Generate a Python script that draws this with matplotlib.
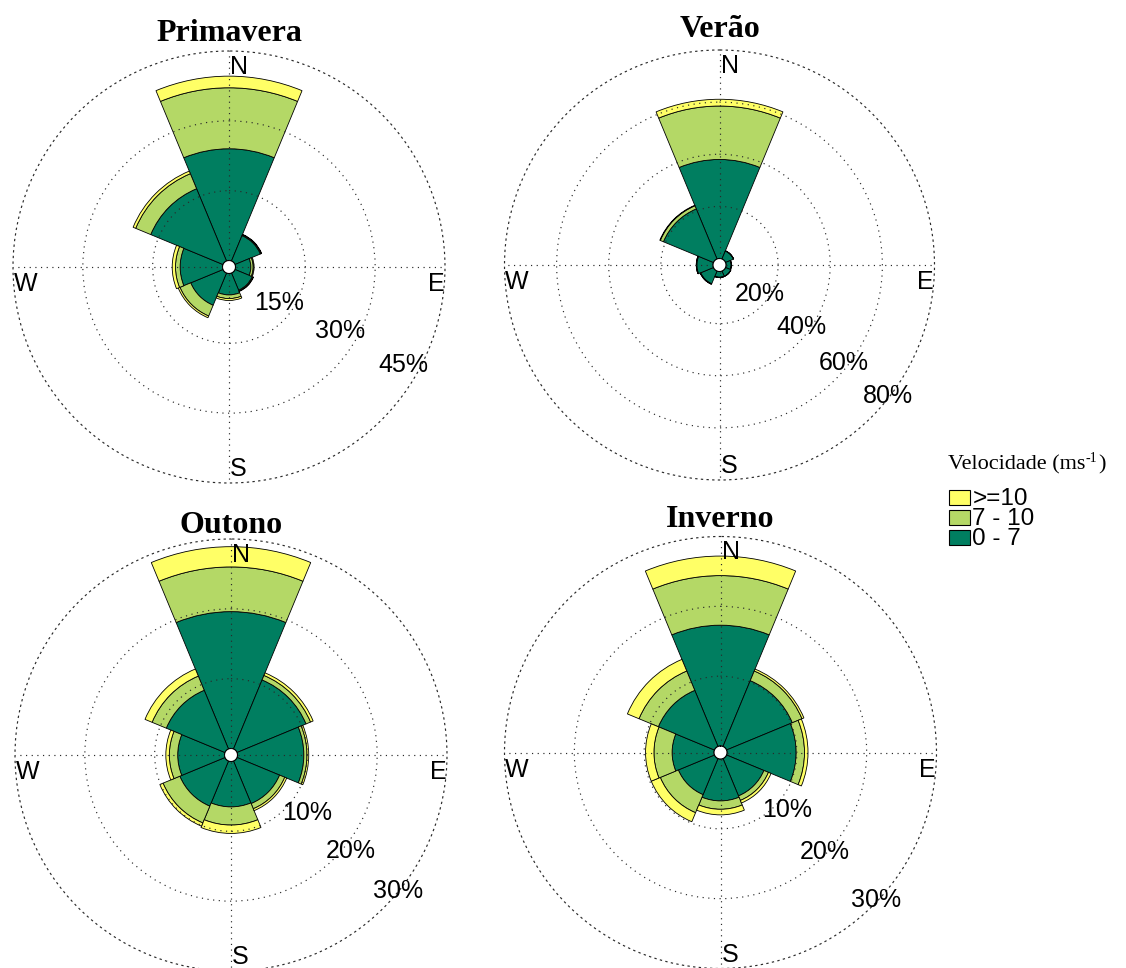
import numpy as np
import matplotlib
matplotlib.use("Agg")
import matplotlib.pyplot as plt
from matplotlib.patches import Rectangle

# ---------------------------------------------------------------
# Wind-direction frequency (%) per speed class, 8 sectors
# ---------------------------------------------------------------
directions = ["N", "NE", "E", "SE", "S", "SW", "W", "NW"]
speed_classes = ["0 - 7", "7 - 10", ">=10"]
class_colors = ["#007E60", "#B4D866", "#FFFF66"]

seasons = ["Primavera", "Verão", "Outono", "Inverno"]

primavera_0_7 = [24.0, 5.9, 3.3, 4.0, 4.6, 7.5, 9.1, 16.8]
primavera_7_10 = [13.1, 0.2, 0.5, 0.2, 0.8, 2.5, 1.0, 3.5]
primavera_ge10 = [2.5, 0.1, 0.2, 0.1, 0.4, 0.4, 0.7, 0.6]

verao_0_7 = [38.0, 3.3, 2.0, 2.2, 2.2, 5.3, 6.2, 20.8]
verao_7_10 = [20.5, 0.1, 0.05, 0.05, 0.1, 0.2, 0.2, 1.3]
verao_ge10 = [2.6, 0.0, 0.0, 0.0, 0.0, 0.0, 0.0, 0.2]

outono_0_7 = [19.6, 10.7, 9.5, 6.6, 6.5, 7.0, 6.7, 9.1]
outono_7_10 = [6.4, 0.7, 0.45, 0.8, 2.6, 2.6, 1.2, 2.2]
outono_ge10 = [2.9, 0.4, 0.25, 0.3, 1.2, 0.5, 0.5, 1.1]

inverno_0_7 = [17.3, 10.2, 9.9, 5.8, 6.0, 5.6, 6.0, 8.7]
inverno_7_10 = [7.1, 1.5, 1.2, 0.7, 1.2, 2.8, 2.6, 3.0]
inverno_ge10 = [2.8, 0.3, 0.5, 0.4, 0.8, 1.4, 1.2, 1.8]

season_data = [
    [primavera_0_7, primavera_7_10, primavera_ge10],
    [verao_0_7, verao_7_10, verao_ge10],
    [outono_0_7, outono_7_10, outono_ge10],
    [inverno_0_7, inverno_7_10, inverno_ge10],
]

# frequency rings (last one is the outer limit of each rose)
season_rings = [
    [15, 30, 45],
    [20, 40, 60, 80],
    [10, 20, 30],
    [10, 20, 30],
]

# ---------------------------------------------------------------
# Layout (pixels on a 1126 x 968 canvas)
# ---------------------------------------------------------------
W_PX, H_PX = 1126, 968
centers = [(229, 267), (719.5, 265), (231, 755), (720.5, 752.5)]
radii = [216, 215, 216, 216]
hole_px = 6.5

# ring label placement (bearing in degrees, radius in %)
ring_label_angles = [
    [125.8, 119.9, 119.4],
    [125.2, 127.0, 128.2, 127.8],
    [127.2, 128.6, 129.2],
    [130.9, 133.7, 133.5],
]
ring_label_r = [
    [11.9, 26.2, 41.6],
    [16.6, 37.1, 58.2, 79.3],
    [12.7, 21.1, 29.9],
    [11.6, 19.7, 29.7],
]
title_y = [1.023, 1.030, 1.014, 1.022]

SANS = "Liberation Sans"
SERIF = "Liberation Serif"
dots = (0, (1, 3.8))
grid_color = "#2a2a2a"

fig = plt.figure(figsize=(W_PX / 100, H_PX / 100), dpi=100)

theta = np.deg2rad(np.arange(len(directions)) * 45.0)
width = np.deg2rad(45.0)

for k, name in enumerate(seasons):
    cx, cy = centers[k]
    R = radii[k]
    rings = season_rings[k]
    rmax = rings[-1]

    ax = fig.add_axes([(cx - R) / W_PX, (H_PX - cy - R) / H_PX,
                       2 * R / W_PX, 2 * R / H_PX], projection="polar")
    ax.set_theta_zero_location("N")
    ax.set_theta_direction(-1)
    ax.set_ylim(0, rmax)
    ax.set_rorigin(-hole_px * rmax / (R - hole_px))
    ax.set_axisbelow(False)

    bottom = np.zeros(len(directions))
    for vals, color, label in zip(season_data[k], class_colors, speed_classes):
        vals = np.asarray(vals, dtype=float)
        ax.bar(theta, vals, width=width, bottom=bottom, color=color,
               edgecolor="black", linewidth=0.6, zorder=1, label=label)
        bottom = bottom + vals

    ax.set_rgrids(rings[:-1], labels=[""] * (len(rings) - 1))
    ax.set_thetagrids([0, 90, 180, 270], labels=[""] * 4)
    ax.grid(True, color=grid_color, linestyle=dots, linewidth=0.85)
    ax.tick_params(length=0)
    ax.spines["polar"].set_linestyle(dots)
    ax.spines["polar"].set_linewidth(0.85)
    ax.spines["polar"].set_edgecolor(grid_color)

    # compass letters
    ax.text(0.503, 0.991, "N", transform=ax.transAxes, ha="left", va="top",
            fontsize=18, family=SANS, zorder=5)
    ax.text(0.002, 0.488, "W", transform=ax.transAxes, ha="left", va="top",
            fontsize=18, family=SANS, zorder=5)
    ax.text(0.998, 0.488, "E", transform=ax.transAxes, ha="right", va="top",
            fontsize=18, family=SANS, zorder=5)
    ax.text(0.503, 0.016, "S", transform=ax.transAxes, ha="left",
            va="baseline", fontsize=18, family=SANS, zorder=5)

    # ring labels
    for ang, rr, val in zip(ring_label_angles[k], ring_label_r[k], rings):
        ax.text(np.deg2rad(ang), rr, f"{val}%", ha="center", va="center",
                fontsize=18, family=SANS, zorder=5)

    ax.text(0.5, title_y[k], name, transform=ax.transAxes, ha="center",
            va="baseline", fontsize=23, fontweight="bold", family=SERIF)

# ---------------------------------------------------------------
# Speed legend
# ---------------------------------------------------------------
renderer = fig.canvas.get_renderer()
title_base = 1 - 469.3 / H_PX
t_main = fig.text(948 / W_PX, title_base, "Velocidade (ms", family=SERIF,
                  fontsize=16, va="baseline", ha="left")
x_end = t_main.get_window_extent(renderer).x1 / W_PX
t_sup = fig.text(x_end + 0.5 / W_PX, title_base + 7 / H_PX, "-1",
                 family=SERIF, fontsize=10, va="baseline", ha="left")
x_end = t_sup.get_window_extent(renderer).x1 / W_PX
fig.text(x_end + 0.5 / W_PX, title_base, ")", family=SERIF, fontsize=16,
         va="baseline", ha="left")

legend_order = [2, 1, 0]
for row, ci in enumerate(legend_order):
    base_y = 504.7 + 20 * row
    fig.add_artist(Rectangle((949.3 / W_PX, 1 - base_y / H_PX),
                             21 / W_PX, 15 / H_PX,
                             transform=fig.transFigure,
                             facecolor=class_colors[ci], edgecolor="black",
                             linewidth=0.8))
    fig.text(972.5 / W_PX, 1 - base_y / H_PX, speed_classes[ci],
             family=SANS, fontsize=17.5, va="baseline", ha="left")

fig.savefig("out.png", dpi=100, facecolor="white")
